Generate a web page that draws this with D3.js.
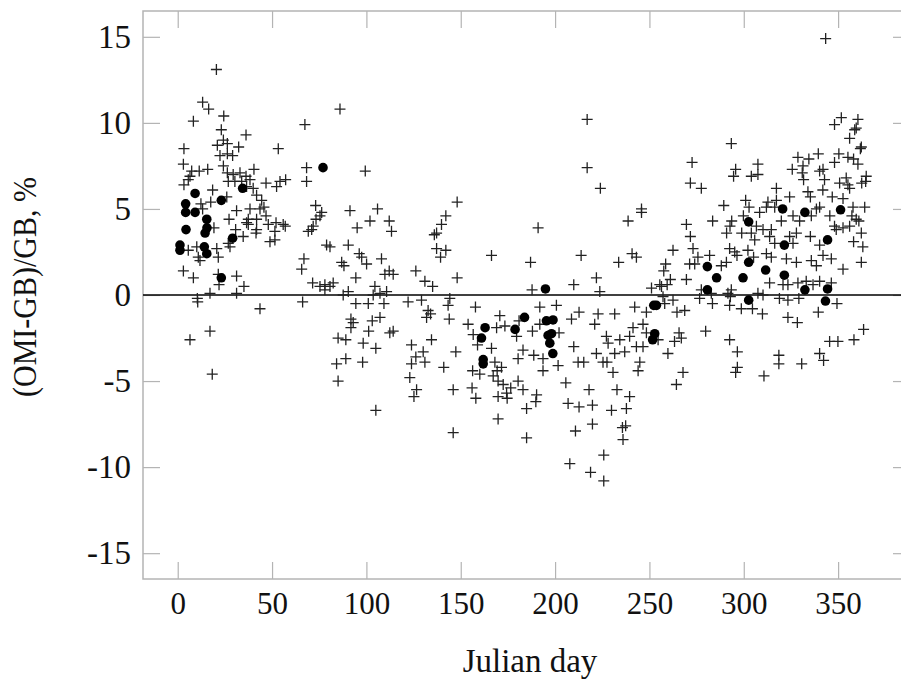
<!DOCTYPE html>
<html><head><meta charset="utf-8">
<script src="https://cdn.jsdelivr.net/npm/d3@7"></script>
<style>
body{margin:0;background:#fff;}
svg{display:block;font-family:"Liberation Serif","Times New Roman",serif;}
</style>
</head><body>
<svg id="c" width="901" height="683"></svg>
<script>
const xTicks=[0,50,100,150,200,250,300,350];
const yTicks=[-15,-10,-5,0,5,10,15];
const xTitle="Julian day";
const yTitle="(OMI-GB)/GB, %";

// "+" markers: Julian day and relative difference (%)
const crossDay=[
20.5,13.2,16.4,8.3,24.4,23.1,36.2,3.3,53.3,21.0,26.3,32.3,26.3,22.4,29.1,24.2,3.0,7.4,11.4,15.9,24.2,40.4,3.3,5.6,6.5,18.5,26.3,29.4,33.0,36.2,26.8,30.3,33.9,38.3,36.5,40.0,46.8,52.4,54.2,57.2,12.3,17.5,13.2,26.0,41.8,44.5,31.2,38.3,43.6,45.7,27.2,37.4,41.8,46.8,37.4,52.1,55.9,57.0,19.2,30.7,41.8,51.5,34.7,41.5,26.8,48.9,51.5,5.6,10.1,10.9,20.7,21.5,27.7,11.8,3.0,8.3,31.2,35.1,31.2,21.9,17.1,10.4,36.5,48.0,21.5,67.4,68.3,68.3,69.2,66.9,65.7,66.2,43.6,10.6,
86.0,99.4,73.1,76.3,73.3,75.4,71.0,71.8,91.3,95.1,101.9,105.9,78.9,80.7,90.4,96.2,97.5,100.1,86.9,88.1,94.4,71.5,75.4,78.0,80.7,82.4,108.0,104.5,109.8,110.7,
78.0,87.7,90.4,103.6,107.2,94.4,101.0,109.3,91.8,93.0,91.8,103.1,107.2,101.2,112.4,85.0,89.1,98.3,105.0,84.2,89.1,98.0,85.0,105.0,6.5,17.1,18.3,
148.1,112.1,113.3,142.1,139.8,137.2,136.0,137.2,142.1,139.3,112.1,114.2,126.2,131.0,135.1,148.1,144.2,143.3,166.3,191.0,187.0,187.8,213.8,209.9,221.9,223.7,238.7,245.8,240.8,243.1,233.7,262.5,258.6,257.6,261.1,259.4,256.4,251.1,255.5,257.2,258.1,
122.1,129.2,132.7,134.0,131.9,143.9,157.8,153.9,158.9,156.6,123.9,126.2,123.9,130.1,131.0,134.5,123.0,114.2,147.4,141.0,126.6,125.2,146.0,146.0,170.7,173.4,169.0,166.3,168.1,171.6,169.3,167.2,169.8,172.5,156.3,160.1,156.0,158.0,174.3,174.6,176.5,169.8,180.4,183.0,180.9,179.6,183.0,180.4,188.7,184.9,189.8,190.2,169.8,184.9,191.9,200.7,202.1,193.6,193.6,201.6,188.0,191.9,205.7,208.7,212.7,209.9,212.2,215.2,218.0,206.9,212.7,219.8,219.8,210.8,207.8,218.8,225.8,225.8,222.8,221.0,231.6,221.9,225.4,227.5,230.7,232.8,229.9,239.5,237.8,237.4,235.7,236.0,227.2,234.3,228.1,236.9,231.6,239.5,241.3,246.6,243.1,246.6,244.9,244.0,242.2,248.4,248.4,259.8,254.6,264.3,
217.0,217.0,224.0,245.8,
343.4,351.7,348.1,360.5,359.6,358.8,356.1,362.3,361.8,293.4,272.6,271.7,277.5,295.7,294.6,307.5,307.5,304.0,328.7,334.5,339.5,331.4,325.7,331.0,342.0,340.2,350.4,355.2,358.2,348.1,360.5,331.7,342.8,341.9,334.0,335.3,354.3,355.2,356.1,350.8,352.6,346.9,364.6,362.5,364.9,364.1,357.9,357.3,359.6,361.0,356.1,352.6,349.0,362.3,358.2,363.1,362.3,352.6,342.0,346.4,317.3,312.8,317.3,324.3,316.4,312.0,289.4,301.0,302.8,299.8,283.5,293.6,292.7,290.9,298.9,269.6,271.7,273.1,308.4,306.7,310.2,314.6,319.9,326.1,329.6,335.8,338.5,345.6,340.2,304.0,305.8,313.7,316.4,324.3,326.1,327.9,335.3,340.2,348.1,292.5,295.2,296.4,302.2,305.2,312.0,314.6,322.6,327.9,335.8,338.5,274.0,271.3,275.7,281.9,288.1,290.8,269.6,277.5,282.8,291.6,293.4,307.5,310.2,313.7,320.8,323.4,328.7,333.1,336.7,340.2,346.4,
262.5,276.6,283.4,292.9,292.5,298.7,304.6,309.9,318.9,323.4,329.2,323.4,328.4,339.5,349.4,264.6,268.7,265.7,266.9,263.3,279.8,292.5,296.6,267.8,296.6,295.7,310.7,318.6,318.6,330.7,340.2,342.3,345.5,349.9,358.4,363.5
];
const crossVal=[
13.1,11.2,10.8,10.1,10.4,9.6,9.3,8.5,8.5,8.7,8.8,8.6,8.2,8.1,8.1,9.0,7.6,7.2,7.2,7.3,7.5,7.3,6.4,6.7,6.9,6.1,7.1,7.0,7.1,6.9,6.6,6.6,6.6,6.7,6.3,6.2,6.5,6.3,6.6,6.7,5.3,5.4,5.0,5.7,5.8,5.5,4.9,5.0,5.0,5.1,4.4,4.4,4.4,4.6,4.1,4.2,4.1,4.0,3.9,3.8,3.8,3.7,3.4,3.6,3.0,3.1,3.2,2.6,2.8,2.2,2.7,2.2,2.8,2.0,1.4,1.0,1.1,0.5,0.1,0.6,0.1,-0.2,4.2,4.1,1.2,9.9,7.4,6.6,3.7,2.1,1.5,-0.4,-0.8,-0.4,
10.8,7.2,5.2,4.8,4.4,4.6,3.8,4.0,4.9,3.9,4.3,5.0,2.9,2.8,2.9,2.4,2.2,1.8,1.9,1.7,1.0,0.7,0.5,0.6,0.5,0.7,2.1,0.5,1.2,0.2,
0.3,0.0,0.2,0.0,0.1,-0.5,-0.5,-0.5,-1.4,-1.6,-1.9,-1.5,-1.3,-2.1,-2.2,-2.5,-2.6,-2.8,-3.1,-4.0,-3.7,-3.9,-5.0,-6.7,-2.6,-2.1,-4.6,
5.4,4.3,3.7,4.6,4.1,3.6,3.5,2.7,2.6,2.2,1.4,1.2,1.4,0.8,0.5,1.0,-0.2,-0.6,2.3,3.9,1.9,0.3,2.3,0.6,1.0,0.2,4.3,4.8,2.4,2.2,1.9,2.6,1.8,1.4,0.9,0.6,0.5,0.4,0.6,-0.1,-0.5,
-0.4,-0.3,-0.9,-1.1,-1.3,-1.4,-0.7,-1.7,-2.9,-2.3,-2.9,-3.6,-4.0,-3.3,-3.9,-2.6,-4.8,-2.1,-3.3,-4.2,-5.5,-5.9,-5.5,-8.0,-1.2,-1.8,-1.9,-3.1,-3.9,-4.2,-4.4,-4.7,-5.0,-5.2,-4.4,-4.6,-5.4,-6.0,-5.7,-6.0,-5.4,-5.9,-5.0,-5.5,-1.5,-2.4,-3.2,-3.7,-3.5,-6.6,-6.2,-5.8,-7.2,-8.3,-0.7,-0.6,-2.2,-3.7,-4.4,-4.1,-2.1,-1.7,-5.1,-1.4,-1.0,-3.0,-3.9,-3.9,-5.5,-6.3,-6.5,-6.4,-7.5,-7.9,-9.8,-10.3,-10.8,-9.3,-1.1,-1.7,-1.1,-3.4,-3.9,-3.9,-4.5,-5.5,-6.7,-5.9,-6.6,-7.6,-7.7,-8.4,-2.4,-2.6,-2.8,-3.3,-3.4,-2.4,-1.9,-1.7,-3.0,-3.0,-3.9,-4.4,-0.7,-1.0,-2.2,-3.4,-2.6,-5.2,
10.2,7.4,6.2,5.0,
14.9,10.3,9.9,10.2,9.7,9.6,9.1,8.6,8.5,8.8,7.7,6.5,6.2,7.3,6.9,7.6,7.0,6.9,8.0,7.9,8.2,7.5,7.3,7.1,7.3,7.2,8.2,8.0,7.9,7.7,7.6,6.7,6.7,6.1,6.0,5.7,6.8,6.4,6.2,6.5,5.6,5.7,6.6,6.5,6.9,5.1,5.1,4.6,4.4,4.3,4.0,3.9,3.8,3.6,3.1,2.8,1.9,1.5,2.3,2.1,6.2,5.4,5.5,5.7,5.1,5.1,5.2,5.5,5.1,4.6,4.3,4.3,4.0,3.6,3.6,4.1,3.4,2.7,4.8,4.0,3.8,3.8,4.3,4.6,4.3,4.6,5.0,4.6,5.1,3.6,3.2,3.4,3.0,3.4,3.0,3.6,3.4,2.9,4.0,2.7,2.5,2.3,2.6,2.2,2.4,2.2,2.1,1.9,2.0,1.7,1.8,1.8,2.2,2.3,1.7,1.9,0.9,0.3,0.1,0.1,0.3,0.1,0.0,0.7,0.6,0.6,0.7,0.8,0.6,0.8,0.7,
-0.3,-0.2,-0.5,-0.1,-0.6,-0.8,-0.8,-1.1,-0.2,-0.3,-0.2,-1.3,-1.6,-1.0,-0.5,-1.0,-0.9,-2.2,-2.5,-2.7,-2.1,-2.6,-3.3,-4.5,-4.2,-4.5,-4.7,-3.5,-4.0,-4.0,-3.4,-3.8,-2.7,-2.7,-2.6,-2.0
];

// filled circles
const dotDay=[9.2,4.2,4.2,9.2,23.1,34.4,15.4,14.5,15.5,4.4,29.1,1.2,1.2,14.1,15.4,23.1,77.0,
194.9,162.9,161.0,161.9,161.9,178.8,183.8,195.4,198.9,196.3,198.1,197.2,198.8,252.3,253.7,252.8,251.7,
320.6,332.4,351.3,302.6,321.5,344.4,280.7,285.6,299.6,302.6,311.6,321.5,280.7,332.4,344.4,302.6,343.3];
const dotVal=[5.9,5.3,4.8,4.8,5.5,6.2,4.4,3.6,3.9,3.8,3.3,2.9,2.6,2.8,2.4,1.0,7.4,
0.35,-1.9,-2.5,-3.75,-4.0,-2.0,-1.3,-1.5,-1.45,-2.35,-2.25,-2.8,-3.4,-0.6,-0.6,-2.25,-2.6,
5.0,4.8,4.95,4.25,2.9,3.2,1.65,1.0,1.0,1.9,1.45,1.15,0.3,0.3,0.35,-0.3,-0.35];

const svg=d3.select('#c');
const x=d3.scaleLinear().domain([-18.4,388.1]).range([143,910]);
const y=d3.scaleLinear().domain([-16.5,16.5]).range([579,11]);
const [x0,x1]=x.range(), [yb,yt]=y.range();
const grey='#b4b4b4';
const serif='"Liberation Serif","Times New Roman",serif';

function styleAxis(size){
  return g=>{
    g.select('.domain').remove();
    g.selectAll('.tick line').attr('stroke',grey).attr('stroke-width',1.2);
    g.selectAll('.tick text').attr('fill','#111').attr('font-size',size).attr('font-family',serif);
  };
}
const fmt=d=>String(d);
svg.append('g').attr('transform',`translate(0,${yb})`)
  .call(d3.axisBottom(x).tickValues(xTicks).tickSize(-17).tickPadding(13).tickFormat(fmt)).call(styleAxis(31));
svg.append('g').attr('transform',`translate(0,${yt})`)
  .call(d3.axisTop(x).tickValues(xTicks).tickSize(-17).tickFormat('')).call(styleAxis(31));
svg.append('g').attr('transform',`translate(${x0},0)`)
  .call(d3.axisLeft(y).tickValues(yTicks).tickSize(-17).tickPadding(12).tickFormat(fmt)).call(styleAxis(33));
svg.append('g').attr('transform',`translate(${x1},0)`)
  .call(d3.axisRight(y).tickValues(yTicks).tickSize(-17).tickFormat('')).call(styleAxis(33));

svg.append('rect').attr('x',x0).attr('y',yt).attr('width',x1-x0).attr('height',yb-yt)
  .attr('fill','none').attr('stroke',grey).attr('stroke-width',1.5);

svg.append('line').attr('x1',x0).attr('x2',x1).attr('y1',y(0)).attr('y2',y(0))
  .attr('stroke','#000').attr('stroke-width',1.5);

const crosses=crossDay.map((d,i)=>({d,v:crossVal[i]}));
svg.append('g').selectAll('path').data(crosses).join('path')
  .attr('transform',p=>`translate(${x(p.d)},${y(p.v)})`)
  .attr('d','M-5.5,0H5.5M0,-5.5V5.5')
  .attr('stroke','#222').attr('stroke-width',1.3).attr('fill','none');

const dots=dotDay.map((d,i)=>({d,v:dotVal[i]}));
svg.append('g').selectAll('circle').data(dots).join('circle')
  .attr('cx',p=>x(p.d)).attr('cy',p=>y(p.v)).attr('r',4.8).attr('fill','#000');

svg.append('text').attr('x',530).attr('y',672).attr('text-anchor','middle')
  .attr('font-family',serif).attr('font-size',33).attr('fill','#111').text(xTitle);
svg.append('text').attr('transform','translate(36,287) rotate(-90) scale(1,1.12)').attr('text-anchor','middle')
  .attr('font-family',serif).attr('font-size',30).attr('fill','#111').text(yTitle);
</script>
</body></html>
